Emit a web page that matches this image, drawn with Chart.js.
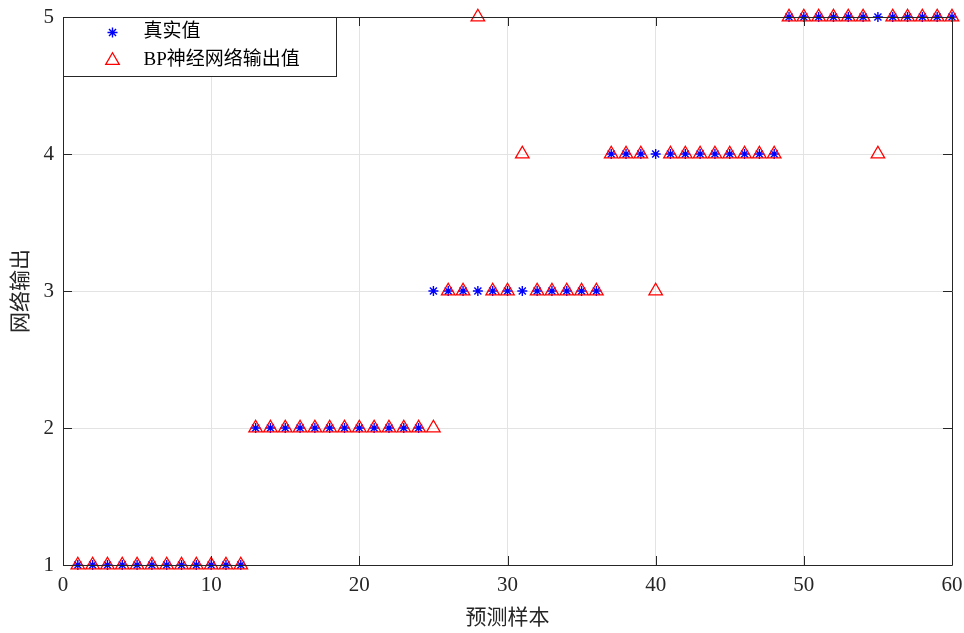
<!DOCTYPE html>
<html lang="zh">
<head>
<meta charset="UTF-8">
<title>BP神经网络预测</title>
<style>
  * { margin: 0; padding: 0; box-sizing: border-box; }
  html, body { width: 964px; height: 633px; background: #fff; overflow: hidden; }
  #wrap { position: relative; width: 964px; height: 633px; }
</style>
</head>
<body>
<div id="wrap"><canvas id="chart" width="964" height="633"></canvas></div>
<script src="https://cdn.jsdelivr.net/npm/chart.js@4.4.0/dist/chart.umd.min.js"></script>
<script>
// sample index (预测样本)
const samples = [1,2,3,4,5,6,7,8,9,10,11,12,13,14,15,16,17,18,19,20,
  21,22,23,24,25,26,27,28,29,30,31,32,33,34,35,36,37,38,39,40,
  41,42,43,44,45,46,47,48,49,50,51,52,53,54,55,56,57,58,59,60];
// 真实值
const trueValues = [1,1,1,1,1,1,1,1,1,1,1,1,2,2,2,2,2,2,2,2,
  2,2,2,2,3,3,3,3,3,3,3,3,3,3,3,3,4,4,4,4,
  4,4,4,4,4,4,4,4,5,5,5,5,5,5,5,5,5,5,5,5];
// BP神经网络输出值
const predValues = [1,1,1,1,1,1,1,1,1,1,1,1,2,2,2,2,2,2,2,2,
  2,2,2,2,2,3,3,5,3,3,4,3,3,3,3,3,4,4,4,3,
  4,4,4,4,4,4,4,4,5,5,5,5,5,5,4,5,5,5,5,5];
const xTicks = [0, 10, 20, 30, 40, 50, 60];
const yTicks = [1, 2, 3, 4, 5];

const seriesNames = ['真实值', 'BP神经网络输出值'];
const FONT = '"Liberation Serif", "Noto Sans CJK SC", serif';

const toPts = (ys) => samples.map((x, i) => ({ x: x, y: ys[i] }));

// box, inward ticks and legend, MATLAB-like
const matlabAxes = {
  id: 'matlabAxes',
  afterDraw(chart) {
    const ctx = chart.ctx;
    const a = chart.chartArea;
    const xs = chart.scales.x, ys = chart.scales.y;
    ctx.save();
    ctx.strokeStyle = '#262626';
    ctx.lineWidth = 1;
    ctx.beginPath();
    ctx.rect(Math.round(a.left) + 0.5, Math.round(a.top) + 0.5,
      Math.round(a.right - a.left), Math.round(a.bottom - a.top));
    ctx.stroke();
    const tl = 9;
    ctx.beginPath();
    xTicks.forEach(v => {
      const px = Math.round(xs.getPixelForValue(v)) + 0.5;
      ctx.moveTo(px, a.bottom); ctx.lineTo(px, a.bottom - tl);
      ctx.moveTo(px, a.top); ctx.lineTo(px, a.top + tl);
    });
    yTicks.forEach(v => {
      const py = Math.round(ys.getPixelForValue(v)) + 0.5;
      ctx.moveTo(a.left, py); ctx.lineTo(a.left + tl, py);
      ctx.moveTo(a.right, py); ctx.lineTo(a.right - tl, py);
    });
    ctx.stroke();

    // legend
    const lx = Math.round(a.left) + 0.5, ly = Math.round(a.top) + 0.5;
    const lw = 273, lh = 59;
    ctx.fillStyle = '#fff';
    ctx.fillRect(lx, ly, lw, lh);
    ctx.strokeStyle = '#262626';
    ctx.strokeRect(lx, ly, lw, lh);
    const rows = [ly + 15, ly + 43];
    chart.data.datasets.forEach((ds, i) => {
      ctx.strokeStyle = ds.borderColor;
      ctx.fillStyle = ds.backgroundColor;
      ctx.lineWidth = ds.borderWidth;
      Chart.helpers.drawPoint(ctx, {
        pointStyle: ds.pointStyle, radius: ds.pointRadius,
        borderWidth: ds.borderWidth, rotation: 0
      }, lx + 49, rows[i]);
      ctx.fillStyle = '#000';
      ctx.font = '19px ' + FONT;
      ctx.textBaseline = 'middle';
      ctx.textAlign = 'left';
      ctx.fillText(ds.label, lx + 80, rows[i]);
    });
    ctx.restore();
  }
};

new Chart(document.getElementById('chart'), {
  type: 'scatter',
  data: {
    datasets: [
      {
        label: seriesNames[0],
        data: toPts(trueValues),
        pointStyle: 'star',
        pointRadius: 5,
        borderColor: '#0000ff',
        backgroundColor: '#0000ff',
        borderWidth: 1.4,
        order: 1
      },
      {
        label: seriesNames[1],
        data: toPts(predValues),
        pointStyle: 'triangle',
        pointRadius: 7.8,
        borderColor: '#ff0000',
        backgroundColor: 'rgba(0,0,0,0)',
        borderWidth: 1.3,
        order: 0
      }
    ]
  },
  options: {
    responsive: false,
    animation: false,
    events: [],
    clip: false,
    layout: { padding: { left: 0, top: 17, right: 12, bottom: 0 } },
    plugins: {
      legend: { display: false },
      tooltip: { enabled: false }
    },
    scales: {
      x: {
        type: 'linear', min: 0, max: 60,
        afterBuildTicks: (s) => { s.ticks = xTicks.map(v => ({ value: v })); },
        afterFit: (s) => { s.height = 68; s.paddingLeft = 0; s.paddingRight = 0; },
        grid: { color: '#e3e3e3', drawTicks: false },
        border: { display: false },
        ticks: { color: '#262626', padding: 8, font: { family: FONT, size: 21 } },
        title: { display: true, text: '预测样本', color: '#262626', padding: { top: 4, bottom: 2 }, font: { family: FONT, size: 21 } }
      },
      y: {
        type: 'linear', min: 1, max: 5,
        afterBuildTicks: (s) => { s.ticks = yTicks.map(v => ({ value: v })); },
        afterFit: (s) => { s.width = 63; s.paddingTop = 0; s.paddingBottom = 0; },
        grid: { color: '#e3e3e3', drawTicks: false },
        border: { display: false },
        ticks: { color: '#262626', padding: 9, font: { family: FONT, size: 21 } },
        title: { display: true, text: '网络输出', color: '#262626', padding: { top: 9, bottom: 0 }, font: { family: FONT, size: 21 } }
      }
    }
  },
  plugins: [matlabAxes]
});
</script>
</body>
</html>
